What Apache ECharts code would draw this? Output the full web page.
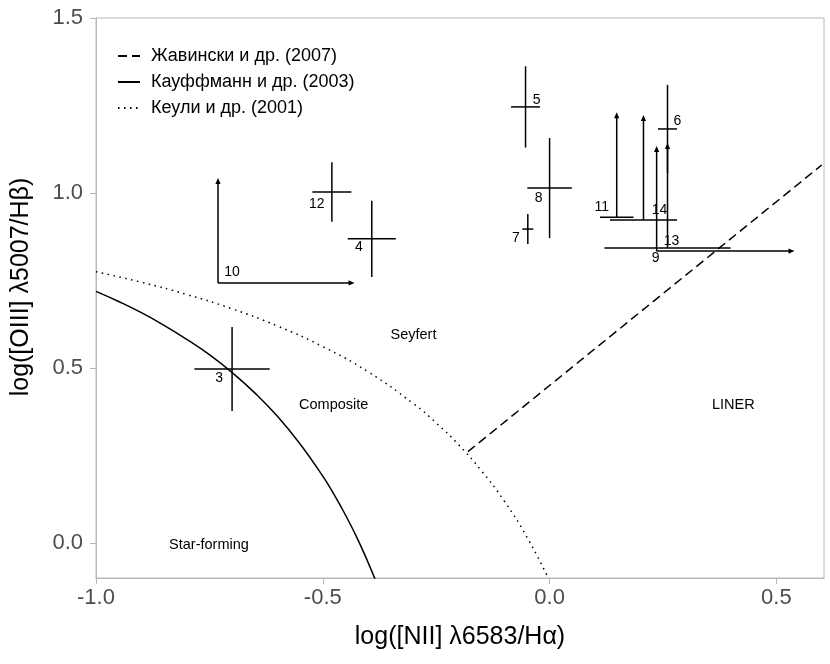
<!DOCTYPE html>
<html><head><meta charset="utf-8">
<script src="https://cdn.jsdelivr.net/npm/echarts@6/dist/echarts.min.js"></script>
<style>html,body{margin:0;padding:0;background:#fff}#c{width:830px;height:664px}</style>
</head><body><div id="c"></div>
<script>
// ---- data ----
const xTicks = [-1.0, -0.5, 0.0, 0.5];
const yTicks = [0.0, 0.5, 1.0, 1.5];

// points with error crosses
const crossIds  = ['3', '4', '5', '6', '7', '8', '12'];
const crossX    = [-0.700, -0.392, -0.053, 0.260, -0.048, 0.000, -0.480];
const crossY    = [0.497, 0.869, 1.246, 1.183, 0.897, 1.014, 1.003];
const crossXErr = [0.083, 0.053, 0.032, 0.021, 0.012, 0.049, 0.043];
const crossYErr = [0.120, 0.109, 0.116, 0.126, 0.043, 0.143, 0.085];

// points given as limits (arrows)
const limIds   = ['9', '10', '11', '13', '14'];
const limX     = [0.236, -0.731, 0.148, 0.260, 0.207];
const limY     = [0.834, 0.743, 0.931, 0.843, 0.923];
const limXErr  = [0, 0, 0.037, 0.139, 0.074];
const limUpTo  = [1.134, 1.043, 1.231, 1.143, 1.223];
const limRightTo = [0.540, -0.430, null, null, null];

// demarcation lines
const kauffX = [-1.0, -0.95, -0.9, -0.85, -0.8, -0.75, -0.7, -0.65, -0.6, -0.55, -0.5, -0.475, -0.45, -0.425, -0.4, -0.38];
const kauffY = [0.719, 0.690, 0.658, 0.622, 0.582, 0.538, 0.487, 0.429, 0.362, 0.283, 0.191, 0.138, 0.080, 0.016, -0.056, -0.119];
const kewX = [-1.0, -0.9, -0.8, -0.7, -0.6, -0.5, -0.4, -0.3, -0.25, -0.2, -0.15, -0.1, -0.05, 0.0];
const kewY = [0.775, 0.745, 0.710, 0.669, 0.620, 0.561, 0.489, 0.398, 0.343, 0.280, 0.206, 0.120, 0.017, -0.108];
const schawX = [-0.18, 0.6];
const schawY = [0.261, 1.08];

const seriesNames = ['Жавински и др. (2007)', 'Кауффманн и др. (2003)', 'Кеули и др. (2001)'];

const regionNames = ['Seyfert', 'Composite', 'LINER', 'Star-forming'];
const regionX = [-0.30, -0.476, 0.405, -0.751];
const regionY = [0.594, 0.394, 0.394, -0.006];

// ---- label placement (pixel offsets, style only) ----
const crossLabelOff = {'3':[-13,9],'4':[-13,8],'5':[11,-7],'6':[10,-8],'7':[-12,9],'8':[-11,10],'12':[-15,12]};
const limLabelOff = {'9':[-1,7],'10':[14,-11],'11':[-15,-10],'13':[4,-7],'14':[16,-10]};

const zip = (a, b) => a.map((v, i) => [v, b[i]]);
const LW = 1.5;
const FONT = 'Liberation Sans, Arial, sans-serif';

function arrowHead(tip, dir) {
  const L = 6, W = 2.6;
  const [tx, ty] = tip;
  let pts;
  if (dir === 'up') pts = [[tx, ty], [tx - W, ty + L], [tx + W, ty + L]];
  else pts = [[tx, ty], [tx - L, ty - W], [tx - L, ty + W]];
  return {type: 'polygon', shape: {points: pts}, style: {fill: '#000'}};
}
function textEl(txt, x, y, size) {
  return {type: 'text', x: x, y: y, style: {text: txt, fontSize: size, fontFamily: FONT, fill: '#000', align: 'center', verticalAlign: 'middle'}};
}
const seg = (a, b) => ({type: 'line', shape: {x1: a[0], y1: a[1], x2: b[0], y2: b[1]}, style: {stroke: '#000', lineWidth: LW}});

const chart = echarts.init(document.getElementById('c'));
chart.setOption({
  animation: false,
  backgroundColor: '#fff',
  grid: {left: 96, right: 6, top: 18, bottom: 86, show: true, borderColor: '#b8b8b8', borderWidth: 1},
  legend: {
    show: true, orient: 'vertical', left: 112, top: 42, itemWidth: 22, itemHeight: 14, itemGap: 8,
    data: seriesNames,
    itemStyle: {color: 'rgba(0,0,0,0)', borderColor: 'rgba(0,0,0,0)', borderWidth: 0, opacity: 0},
    textStyle: {fontSize: 18, color: '#000', fontFamily: FONT, padding: [0, 0, 0, 6]}
  },
  xAxis: {
    type: 'value', min: -1.0, max: 0.605,
    axisLine: {show: true, onZero: false, lineStyle: {color: '#b8b8b8', width: 1}},
    axisTick: {show: true, length: 6, lineStyle: {color: '#b8b8b8'}, customValues: xTicks},
    axisLabel: {fontSize: 22, color: '#4d4d4d', margin: 9, fontFamily: FONT, customValues: xTicks, formatter: v => v.toFixed(1)},
    splitLine: {show: false},
    name: 'log([NII] λ6583/Hα)', nameLocation: 'middle', nameGap: 47,
    nameTextStyle: {fontSize: 25, color: '#000', fontFamily: FONT}
  },
  yAxis: {
    type: 'value', min: -0.1, max: 1.5,
    axisLine: {show: true, onZero: false, lineStyle: {color: '#b8b8b8', width: 1}},
    axisTick: {show: true, length: 6, lineStyle: {color: '#b8b8b8'}, customValues: yTicks},
    axisLabel: {fontSize: 22, color: '#4d4d4d', margin: 13, fontFamily: FONT, customValues: yTicks, formatter: v => v.toFixed(1)},
    splitLine: {show: false},
    name: 'log([OIII] λ5007/Hβ)', nameLocation: 'middle', nameGap: 62, nameRotate: 90,
    nameTextStyle: {fontSize: 25, color: '#000', fontFamily: FONT, padding: [0, 0, 0, 22]}
  },
  series: [
    {name: seriesNames[0], type: 'line', data: zip(schawX, schawY), showSymbol: false, symbol: 'none',
     lineStyle: {color: '#000', width: LW, type: [9, 5]}, itemStyle: {color: '#000'}, z: 3},
    {name: seriesNames[1], type: 'line', data: zip(kauffX, kauffY), showSymbol: false, symbol: 'none', smooth: true,
     lineStyle: {color: '#000', width: LW, type: 'solid'}, itemStyle: {color: '#000'}, z: 3},
    {name: seriesNames[2], type: 'line', data: zip(kewX, kewY), showSymbol: false, symbol: 'none', smooth: true,
     lineStyle: {color: '#000', width: LW, type: [1.5, 4.5]}, itemStyle: {color: '#000'}, z: 3},
    {
      type: 'custom', clip: true, z: 4,
      data: crossIds.map((id, i) => [crossX[i], crossY[i], crossXErr[i], crossYErr[i]]),
      encode: {x: 0, y: 1},
      renderItem: (params, api) => {
        const i = params.dataIndex;
        const x = api.value(0), y = api.value(1), ex = api.value(2), ey = api.value(3);
        const c = api.coord([x, y]);
        const off = crossLabelOff[crossIds[i]];
        return {type: 'group', children: [
          seg(api.coord([x - ex, y]), api.coord([x + ex, y])),
          seg(api.coord([x, y - ey]), api.coord([x, y + ey])),
          textEl(crossIds[i], c[0] + off[0], c[1] + off[1], 14)
        ]};
      }
    },
    {
      type: 'custom', clip: true, z: 4,
      data: limIds.map((id, i) => [limX[i], limY[i]]),
      encode: {x: 0, y: 1},
      renderItem: (params, api) => {
        const i = params.dataIndex;
        const x = api.value(0), y = api.value(1);
        const c = api.coord([x, y]);
        const ch = [];
        if (limXErr[i] > 0) ch.push(seg(api.coord([x - limXErr[i], y]), api.coord([x + limXErr[i], y])));
        if (limUpTo[i] != null) {
          const t = api.coord([x, limUpTo[i]]);
          ch.push(seg(c, [t[0], t[1] + 4]));
          ch.push(arrowHead(t, 'up'));
        }
        if (limRightTo[i] != null) {
          const t = api.coord([limRightTo[i], y]);
          ch.push(seg(c, [t[0] - 4, t[1]]));
          ch.push(arrowHead(t, 'right'));
        }
        const off = limLabelOff[limIds[i]];
        ch.push(textEl(limIds[i], c[0] + off[0], c[1] + off[1], 14));
        return {type: 'group', children: ch};
      }
    },
    {
      type: 'custom', clip: true, z: 4,
      data: regionNames.map((n, i) => [regionX[i], regionY[i]]),
      encode: {x: 0, y: 1},
      renderItem: (params, api) => {
        const c = api.coord([api.value(0), api.value(1)]);
        return textEl(regionNames[params.dataIndex], c[0], c[1], 14.5);
      }
    }
  ]
});
</script></body></html>
